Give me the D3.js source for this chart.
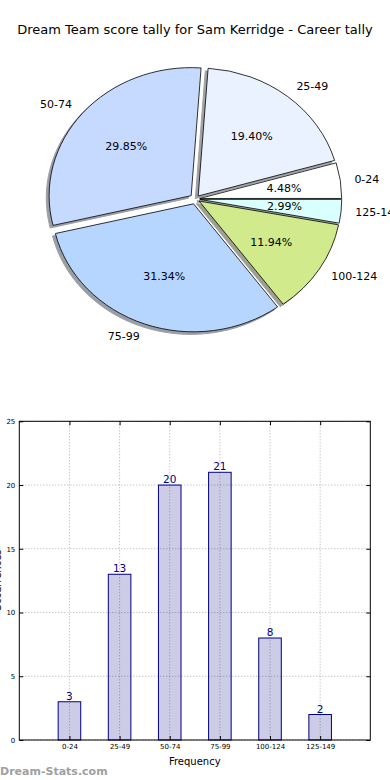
<!DOCTYPE html>
<html>
<head>
<meta charset="utf-8">
<script src="https://cdn.jsdelivr.net/npm/d3@7"></script>
<style>
  html, body { margin: 0; padding: 0; background: #fff; }
  svg { display: block; font-family: "DejaVu Sans", sans-serif; }
</style>
</head>
<body>
<div id="chart"></div>
<script>
// score bands and how many games fell in each
const categories = ["0-24", "25-49", "50-74", "75-99", "100-124", "125-149"];
const counts = [3, 13, 20, 21, 8, 2];
const sliceColors = ["#ffffff", "#eaf1ff", "#c6d9ff", "#b6d6ff", "#d0ea8c", "#d9ffff"];
const explode = [0.03, 0.03, 0.04, 0.04, 0.03, 0.03];
const yTicks = [0, 5, 10, 15, 20, 25];

const title = "Dream Team score tally for Sam Kerridge - Career tally";

const W = 390, H = 780;
const svg = d3.select("#chart").append("svg")
    .attr("width", W)
    .attr("height", H);

svg.append("text")
    .attr("x", 195)
    .attr("y", 34)
    .attr("text-anchor", "middle")
    .style("font-size", "13px")
    .text(title);

/**
* Pie (matplotlib style: starts at 3 o'clock, runs counter clockwise,
* squashed into an ellipse because the axes are not square)
*/
function drawPie(){
    var cx = 195.5, cy = 199, rx = 142, ry = 128;
    var total = d3.sum(counts);
    var pct = d3.format(".2f");

    var pie = d3.pie()
        .sort(null)
        .startAngle(Math.PI / 2)
        .endAngle(Math.PI / 2 - 2 * Math.PI);
    var arcs = pie(counts);
    var arc = d3.arc().innerRadius(0).outerRadius(1);

    function mid(d){ return (d.startAngle + d.endAngle) / 2; }
    // point at radius r (unit circle) out along the slice middle, incl. explode
    function at(d, i, r){
        var m = mid(d);
        var k = explode[i] + r;
        return [cx + k * rx * Math.sin(m), cy - k * ry * Math.cos(m)];
    }

    var pieG = svg.append("g");

    //shadows first, they sit under every wedge
    arcs.forEach(function(d, i){
        var o = at(d, i, 0);
        var c = d3.rgb(sliceColors[i]);
        var sc = d3.rgb(c.r * 0.3, c.g * 0.3, c.b * 0.3);
        pieG.append("path")
            .attr("transform", "translate(" + (o[0] - 0.02 * rx) + "," + (o[1] + 0.02 * ry) + ") scale(" + rx + "," + ry + ")")
            .attr("d", arc(d))
            .attr("fill", sc)
            .attr("stroke", sc)
            .attr("opacity", 0.5)
            .attr("vector-effect", "non-scaling-stroke")
            .attr("stroke-width", 1);
    });

    arcs.forEach(function(d, i){
        var o = at(d, i, 0);
        pieG.append("path")
            .attr("transform", "translate(" + o[0] + "," + o[1] + ") scale(" + rx + "," + ry + ")")
            .attr("d", arc(d))
            .attr("fill", sliceColors[i])
            .attr("stroke", "#000")
            .attr("stroke-width", 0.8)
            .attr("vector-effect", "non-scaling-stroke");
    });

    arcs.forEach(function(d, i){
        var p = at(d, i, 1.1);
        pieG.append("text")
            .attr("x", p[0])
            .attr("y", p[1])
            .attr("dy", "0.35em")
            .attr("text-anchor", Math.sin(mid(d)) > 0 ? "start" : "end")
            .style("font-size", "11px")
            .text(categories[i]);

        var q = at(d, i, 0.6);
        pieG.append("text")
            .attr("x", q[0])
            .attr("y", q[1])
            .attr("dy", "0.35em")
            .attr("text-anchor", "middle")
            .style("font-size", "11px")
            .text(pct(d.data / total * 100) + "%");
    });
}

/**
* Histogram of the same counts underneath
*/
function drawBars(){
    var left = 19.3, right = 370.3, top = 421.3, bottom = 740;
    var x = d3.scaleLinear().domain([-1, categories.length]).range([left, right]);
    var y = d3.scaleLinear().domain([0, 25]).range([bottom, top]);
    var idx = d3.range(categories.length);
    var barW = x(0.45) - x(0);

    var g = svg.append("g");

    //dotted grid
    g.selectAll(".vgrid").data(idx).enter().append("line")
        .attr("x1", function(i){ return x(i); })
        .attr("x2", function(i){ return x(i); })
        .attr("y1", top).attr("y2", bottom)
        .attr("stroke", "#9a9a9a")
        .attr("stroke-width", 0.8)
        .attr("stroke-dasharray", "1,2");
    g.selectAll(".hgrid").data(yTicks).enter().append("line")
        .attr("x1", left).attr("x2", right)
        .attr("y1", function(v){ return y(v); })
        .attr("y2", function(v){ return y(v); })
        .attr("stroke", "#9a9a9a")
        .attr("stroke-width", 0.8)
        .attr("stroke-dasharray", "1,2");

    g.selectAll(".bar").data(counts).enter().append("rect")
        .attr("x", function(v, i){ return x(i) - barW / 2; })
        .attr("y", function(v){ return y(v); })
        .attr("width", barW)
        .attr("height", function(v){ return y(0) - y(v); })
        .attr("fill", "navy")
        .attr("fill-opacity", 0.2)
        .attr("stroke", "navy")
        .attr("stroke-width", 1);

    g.selectAll(".val").data(counts).enter().append("text")
        .attr("x", function(v, i){ return x(i); })
        .attr("y", function(v){ return y(v) - 2; })
        .attr("text-anchor", "middle")
        .attr("fill", "navy")
        .style("font-size", "10.5px")
        .text(function(v){ return v; });

    //axes, ticks point inward like matplotlib
    var xAxis = d3.axisBottom(x).tickValues(idx)
        .tickFormat(function(i){ return categories[i]; })
        .tickSize(-4).tickPadding(4);
    var yAxis = d3.axisLeft(y).tickValues(yTicks).tickSize(-4).tickPadding(4);

    g.append("g").attr("transform", "translate(0," + bottom + ")").call(xAxis);
    g.append("g").attr("transform", "translate(" + left + ",0)").call(yAxis);
    g.append("g").attr("transform", "translate(0," + top + ")")
        .call(d3.axisTop(x).tickValues(idx).tickSize(-4).tickFormat(""));
    g.append("g").attr("transform", "translate(" + right + ",0)")
        .call(d3.axisRight(y).tickValues(yTicks).tickSize(-4).tickFormat(""));

    g.selectAll(".domain").remove();
    g.selectAll(".tick text")
        .style("font-family", "DejaVu Sans, sans-serif")
        .style("font-size", "7px")
        .attr("fill", "#000");
    g.selectAll(".tick line").attr("stroke", "#000");

    g.append("rect")
        .attr("x", left).attr("y", top)
        .attr("width", right - left).attr("height", bottom - top)
        .attr("fill", "none")
        .attr("stroke", "#000")
        .attr("stroke-width", 1);

    g.append("text")
        .attr("x", x(2.5))
        .attr("y", 765)
        .attr("text-anchor", "middle")
        .style("font-size", "10px")
        .text("Frequency");

    // mostly off the left edge, as in the original image
    g.append("text")
        .attr("transform", "translate(1," + y(12.5) + ") rotate(-90)")
        .attr("text-anchor", "middle")
        .style("font-size", "10px")
        .text("Occurrences");
}

drawPie();
drawBars();

svg.append("text")
    .attr("x", 0)
    .attr("y", 775)
    .attr("fill", "#a0a0a0")
    .style("font-weight", "bold")
    .style("font-size", "11px")
    .text("Dream-Stats.com");
</script>
</body>
</html>
